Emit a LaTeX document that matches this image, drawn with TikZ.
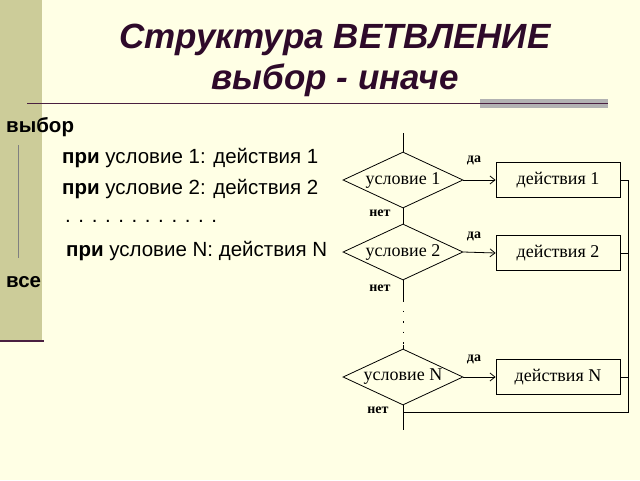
\documentclass[tikz,border=0pt]{standalone}
\usepackage{fontspec}
\setmainfont{Liberation Sans}
\newfontfamily\serifchart{Liberation Serif}
\usetikzlibrary{shapes.geometric,arrows.meta}
\definecolor{bg}{HTML}{FFFFE5}
\definecolor{strip}{HTML}{CCCC99}
\definecolor{titlec}{HTML}{2E0A2A}
\definecolor{rulec}{HTML}{4A2040}
\tikzset{
  dia/.style={diamond,draw,thick,shape aspect=2.1,minimum width=120pt,minimum height=56pt,inner sep=0pt,font=\serifchart\fontsize{18}{18}\selectfont},
  act/.style={rectangle,draw,thick,minimum width=124pt,minimum height=35pt,inner sep=0pt,font=\serifchart\fontsize{18}{18}\selectfont},
  lbl/.style={font=\serifchart\bfseries\fontsize{14}{14}\selectfont,inner sep=0pt},
  ln/.style={thick},
  arr/.style={thick,-{Straight Barb[length=5pt,width=8pt]}},
  body/.style={anchor=west,inner sep=0pt,font=\fontsize{20.5}{21}\selectfont}
}
\begin{document}
\begin{tikzpicture}[x=1pt,y=-1pt]
\fill[bg] (0,0) rectangle (640,480);
\useasboundingbox (0,0) rectangle (640,480);
\fill[strip] (0,0) rectangle (42,340);
\draw[rulec,line width=2pt] (0,341) -- (44,341);
\fill[gray!60] (480,99) rectangle (608,108);
\draw[rulec,line width=1pt] (27,103.5) -- (608,103.5);
\node[titlec,font=\bfseries\itshape\fontsize{35}{41}\selectfont,align=center] (title) at (335,60) {Структура ВЕТВЛЕНИЕ\\выбор - иначе};
% left text
\node[body,font=\bfseries\fontsize{20.5}{21}\selectfont] (vy) at (6,127) {выбор};
\draw[gray,thin] (18,145) -- (18,258);
\node[body] (t1) at (62,158) {\textbf{при} условие 1: действия 1};
\node[body] (t2) at (62,189) {\textbf{при} условие 2: действия 2};
\node[body] (t3) at (65,221) {. . . . . . . . . . . .};
\node[body] (t4) at (66,251) {\textbf{при} условие N: действия N};
\node[body,font=\bfseries\fontsize{20.5}{21}\selectfont] (vse) at (6,282) {все};
% flowchart
\coordinate (top) at (403,133);
\node[dia] (d1) at (403,180) {условие 1};
\node[dia] (d2) at (403,252) {условие 2};
\node[dia] (d3) at (403,377) {условие N};
\node[act] (a1) at (558,180) {действия 1};
\node[act] (a2) at (558,253) {действия 2};
\node[act] (a3) at (558,377) {действия N};
\coordinate (r1) at (628,180);
\coordinate (r2) at (628,253);
\coordinate (r3) at (628,377);
\coordinate (bot) at (628,412);
\coordinate (m) at (403,412);
\coordinate (end) at (403,430);
\coordinate (g1) at (403,300);
\coordinate (g2) at (403,345);
\draw[ln] (top) -- (d1.north);
\draw[ln] (d1.south) -- (d2.north);
\draw[ln] (d2.south) -- (g1);
\draw[ln,dash pattern=on 1.5pt off 9pt] (g1) -- (g2);
\draw[ln] (g2) -- (d3.north);
\draw[ln] (d3.south) -- (end);
\foreach \i in {1,2,3}{
  \draw[arr] (d\i.east) -- (a\i.west);
  \draw[ln] (a\i.east) -- (r\i);
}
\draw[ln] (r1) -- (bot) -- (m);
\node[lbl] (y1) at (474,160) {да};
\node[lbl] (y2) at (474,236) {да};
\node[lbl] (y3) at (474,359) {да};
\node[lbl] (n1) at (380,213) {нет};
\node[lbl] (n2) at (380,288) {нет};
\node[lbl] (n3) at (378,410) {нет};
\end{tikzpicture}
\end{document}
